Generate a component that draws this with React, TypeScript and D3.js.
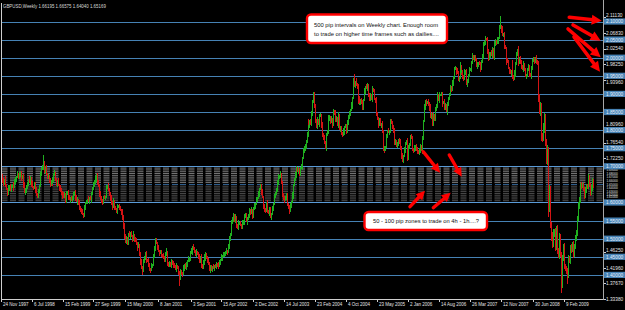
import React from 'react';
import * as d3 from 'd3';

const chartTitle = 'GBPUSD,Weekly  1.66195 1.66575 1.64040 1.65169';

const timeLabels = ['24 Nov 1997', '6 Jul 1998', '15 Feb 1999', '27 Sep 1999', '15 May 2000', '8 Jan 2001', '3 Sep 2001', '15 Apr 2002', '2 Dec 2002', '14 Jul 2003', '23 Feb 2004', '4 Oct 2004', '23 May 2005', '2 Jan 2006', '14 Aug 2006', '26 Mar 2007', '12 Nov 2007', '30 Jun 2008', '9 Feb 2009'];

const lineLevels = [2.10, 2.05, 2.00, 1.95, 1.90, 1.85, 1.80, 1.75, 1.70, 1.60, 1.55, 1.50, 1.45, 1.40];
const zoneLevels = [1.695, 1.69, 1.685, 1.68, 1.675, 1.67, 1.665, 1.66, 1.655, 1.645, 1.64, 1.635, 1.63, 1.625, 1.62, 1.615, 1.61, 1.605];
const zoneMidLevel = 1.65;
const zoneLabels = [1.69, 1.68, 1.67, 1.66, 1.65, 1.64, 1.63, 1.62, 1.61];
const priceTickLabels = [2.1113, 2.0683, 2.0254, 1.9825, 1.9396, 1.8096, 1.7654, 1.7225, 1.4625, 1.4196, 1.3767, 1.3338];

// weekly closes in 1/10000 units (16880 = 1.6880); open = previous close
const firstOpen = 16950;
const wickUnit = 30;
const close1997 = [16880, 16760, 16610, 16540, 16630, 16450];
const close1998 = [16380, 16270, 16380, 16450, 16350, 16420, 16480, 16420, 16580, 16640, 16700, 16790, 16720, 16740, 16810, 16690, 16720, 16500, 16280, 16320, 16380, 16420, 16520, 16630, 16580, 16680, 16500, 16420, 16400, 16520, 16340, 16220, 16180, 16300, 16450, 16780, 16920, 16980, 17050, 16880, 16950, 16780, 16720, 16720, 16580, 16480, 16600, 16550, 16640, 16780, 16800, 16620];
const close1999 = [16490, 16580, 16480, 16420, 16350, 16280, 16200, 16160, 16220, 16060, 16240, 16280, 16150, 16090, 16120, 16080, 16140, 16210, 16280, 16140, 16050, 15980, 16080, 15990, 15870, 15780, 15760, 15690, 15620, 15840, 15980, 16020, 16080, 16040, 16110, 16090, 16240, 16410, 16480, 16550, 16640, 16750, 16560, 16470, 16230, 16140, 16030, 15990, 16050, 16160, 16120, 16160];
const close2000 = [16420, 16450, 16380, 16220, 16140, 15980, 15890, 16040, 15850, 15820, 15760, 15880, 15910, 15840, 15790, 15740, 15590, 15350, 15100, 14940, 14980, 14850, 14990, 15120, 15070, 15150, 15080, 14960, 15110, 15000, 14950, 14880, 14760, 14820, 14580, 14350, 14220, 14100, 14380, 14440, 14600, 14420, 14380, 14280, 14160, 14150, 14240, 14280, 14520, 14700, 14760, 14960];
const close2001 = [14880, 14740, 14660, 14620, 14620, 14560, 14520, 14480, 14460, 14560, 14640, 14300, 14240, 14320, 14280, 14380, 14300, 14260, 14240, 14160, 14250, 14180, 14060, 13920, 13960, 14080, 14040, 14020, 14180, 14280, 14200, 14300, 14380, 14420, 14450, 14600, 14640, 14780, 14720, 14660, 14560, 14620, 14580, 14520, 14380, 14480, 14270, 14200, 14350, 14520, 14440, 14540];
const close2002 = [14480, 14380, 14320, 14150, 14200, 14160, 14220, 14180, 14250, 14220, 14300, 14260, 14240, 14340, 14420, 14480, 14520, 14560, 14580, 14620, 14660, 14640, 14800, 14980, 15140, 15280, 15440, 15560, 15640, 15480, 15580, 15380, 15300, 15420, 15420, 15380, 15340, 15420, 15480, 15620, 15640, 15480, 15560, 15600, 15800, 15720, 15780, 15640, 15820, 15900, 15960, 15980];
const close2003 = [16080, 16120, 16240, 16380, 16460, 16300, 16160, 15880, 15800, 15760, 15980, 15760, 15720, 15820, 15620, 15680, 15820, 15960, 16180, 16240, 16380, 16520, 16720, 16740, 16780, 16540, 16520, 16240, 16100, 16060, 16140, 16200, 15960, 15840, 15780, 15920, 16020, 16200, 16480, 16620, 16780, 16940, 16860, 16900, 16800, 16960, 16980, 17220, 17440, 17460, 17580, 17660];
const close2004 = [17880, 18220, 18160, 18240, 18180, 18480, 18780, 18960, 18660, 18280, 18080, 18280, 18180, 18380, 18420, 18140, 17880, 17800, 17680, 17520, 17860, 17960, 18320, 18360, 18220, 18300, 18140, 18360, 18520, 18460, 18280, 18320, 18140, 18420, 18020, 18040, 17920, 17880, 17960, 18080, 18100, 17940, 18240, 18340, 18460, 18560, 18680, 18880, 19380, 19260, 19340, 19260, 19200];
const close2005 = [18760, 18860, 18780, 18820, 18760, 18620, 18840, 19080, 19200, 19160, 19240, 18940, 18860, 18960, 18880, 19140, 19080, 18860, 18820, 18460, 18300, 18160, 18280, 18140, 18160, 17940, 17520, 17460, 17480, 17540, 17840, 17980, 17960, 17960, 18240, 18200, 18120, 17960, 17640, 17700, 17560, 17580, 17720, 17700, 17520, 17280, 17160, 17290, 17460, 17620, 17700, 17200];
const close2006 = [17540, 17600, 17720, 17840, 17780, 17480, 17420, 17500, 17560, 17460, 17420, 17380, 17420, 17560, 17440, 17760, 18240, 18620, 18800, 18760, 18780, 18720, 18620, 18360, 18440, 18140, 18420, 18300, 18560, 18640, 18660, 18980, 18840, 18960, 18980, 18980, 18740, 18780, 18620, 18700, 18520, 18700, 18880, 18960, 19180, 19120, 19300, 19460, 19680, 19720, 19620, 19580];
const close2007 = [19380, 19440, 19780, 19600, 19600, 19480, 19420, 19600, 19640, 19280, 19340, 19520, 19660, 19660, 19880, 20040, 19980, 20020, 19960, 19780, 19780, 19860, 19820, 19700, 19900, 20020, 20360, 20440, 20520, 20480, 20480, 20220, 19960, 20080, 20140, 20080, 20240, 19990, 20360, 20460, 20420, 20480, 20540, 20840, 20880, 20780, 20620, 20640, 20300, 20260, 19900, 19880];
const close2008 = [19720, 19600, 19580, 19640, 19880, 19480, 19420, 19560, 19840, 20100, 20220, 19860, 19980, 19880, 19760, 19700, 19820, 19660, 19500, 19500, 19680, 19740, 19540, 19500, 19680, 19940, 19960, 19880, 19980, 19920, 19840, 19340, 18900, 18540, 18640, 17840, 17780, 18040, 18380, 17640, 17180, 17400, 15860, 16340, 15380, 15060, 14860, 15140, 15140, 14800, 15260, 14660];
const close2009 = [14550, 15040, 14580, 13740, 14470, 14760, 14380, 14240, 14160, 14080, 14000, 14460, 14400, 14760, 14700, 14840, 14560, 14780, 15040, 15140, 15580, 15920, 16040, 16470, 16460, 16490, 16370, 16180, 16350, 16460, 16430, 16700, 16530, 16480, 16280, 16390, 16620, 16517];

// wick sizes above / below the body, in units of wickUnit pips, one digit per week
const up1997 = '231213';
const dn1997 = '122321';
const up1998 = '2131 2213 22131 3121 2231 22132 1312 23121 2229 3231 21312 2131';
const dn1998 = '1322 1213 12212 2131 3122 12213 2121 31221 1213 2312 21213 1221';
const up1999 = '2131 2213 21312 2121 31221 2131 2213 12131 2213 2312 21312 2121';
const dn1999 = '1213 2231 12213 1312 21312 2231 3121 21213 1312 2123 13212 1312';
const up2000 = '21312 2231 2131 2213 23132 2131 21312 2131 2312 31213 2131 2312';
const dn2000 = '12213 2312 1231 2132 34231 1213 12131 2312 3231 21312 2312 1213';
const up2001 = '21312 2131 2312 21213 2131 2213 21312 2131 2312 21312 2131 2213';
const dn2001 = '12131 2213 3121 12312 2131 2822 13121 2312 2131 21213 2231 1312';
const up2002 = '21312 2131 2213 21312 2131 2312 31213 2131 21312 2213 2131 2312';
const dn2002 = '12213 2312 1213 12131 2213 1312 21312 3121 12213 2131 1213 2131';
const up2003 = '21312 2213 21312 2131 2213 21312 2131 2213 21312 2213 2131 2312';
const dn2003 = '12131 3122 21213 2312 1213 12213 3121 2213 12131 1312 2213 1213';
const up2004 = '21312 2233 21312 2131 21213 2131 2213 21312 2131 2213 21312 6131';
const dn2004 = '12131 2312 31213 1322 21312 2213 1312 21312 2213 1213 12131 2312';
const up2005 = '21312 2131 2213 2131 21312 2213 2131 21312 2213 21312 2131 2213';
const dn2005 = '12131 2213 1312 2231 12213 2131 3312 12131 1312 21213 2312 1312';
const up2006 = '21312 2131 2213 2131 31213 2312 21312 2131 2213 21312 2131 2213';
const dn2006 = '12131 2213 1312 2131 12312 3121 12213 2131 1312 21312 1213 2131';
const up2007 = '21312 2131 2213 21312 2131 2213 21312 3131 2213 21312 9131 2213';
const dn2007 = '12131 2213 1312 12213 2131 1312 21312 4213 1312 12131 2312 2131';
const up2008 = '21312 2131 21312 2131 2213 21312 2131 2235 43532 4645 4344 4534';
const dn2008 = '12131 2213 12312 2131 1312 21312 2131 3435 54343 4594 3443 3543';
const up2009 = '34323 3432 34322 3232 2323 42322 2322 32323 21';
const dn2009 = '34383 3432 28323 3232 2323 32322 3232 23232 24';

// arrows as [weekIndexTail, priceTail, weekIndexTip, priceTip]
const arrowsTopRight = [
  [590.5, 2.1116, 624.2, 2.1022],
  [594.4, 2.0903, 623.1, 2.0470],
  [589.2, 2.0793, 623.1, 2.0011],
  [595.4, 2.0572, 622.4, 1.9613],
];
const arrowsZone = [
  [438.8, 1.7403, 456.2, 1.6823],
  [465.8, 1.7312, 478.7, 1.6713],
  [425.0, 1.5884, 440.6, 1.6326],
  [449.2, 1.5856, 467.3, 1.6271],
];

const noteTop = ['500 pip intervals on Weekly chart. Enough room', 'to trade on higher time frames such as dailies....'];
const noteZone = '50 - 100 pip zones to trade on 4h - 1h....?';

const yearCloses = [close1997, close1998, close1999, close2000, close2001, close2002, close2003, close2004, close2005, close2006, close2007, close2008, close2009];
const yearUp = [up1997, up1998, up1999, up2000, up2001, up2002, up2003, up2004, up2005, up2006, up2007, up2008, up2009];
const yearDn = [dn1997, dn1998, dn1999, dn2000, dn2001, dn2002, dn2003, dn2004, dn2005, dn2006, dn2007, dn2008, dn2009];

const digits = (s: string) => s.replace(/\s+/g, '').split('').map(Number);
const parseDay = d3.timeParse('%d %b %Y');
const fmt5 = d3.format('.5f');

const FONT = "'Liberation Sans', Arial, sans-serif";
const GREEN = '#1fb01f';
const RED = '#d41414';
const LINE = '#4682B4';

function Arrow({ x1, y1, x2, y2, head, wHead, sw }: any) {
  const dx = x2 - x1, dy = y2 - y1;
  const len = Math.hypot(dx, dy);
  const ux = dx / len, uy = dy / len;
  const bx = x2 - ux * head, by = y2 - uy * head;
  const nx = -uy, ny = ux;
  const pts = `${x2},${y2} ${bx + nx * wHead},${by + ny * wHead} ${bx - nx * wHead},${by - ny * wHead}`;
  return (
    <g>
      <line x1={x1} y1={y1} x2={bx + ux * 1} y2={by + uy * 1} stroke="#ff0000" strokeWidth={sw} strokeLinecap="round" />
      <polygon points={pts} fill="#ff0000" />
    </g>
  );
}

export default function App() {
  const width = 625;
  const height = 310;
  const plotL = 1.5;
  const plotR = 603.5;
  const axisY = 299.5;

  const start = parseDay(timeLabels[0]) as Date;
  const anchor = parseDay(timeLabels[timeLabels.length - 1]) as Date;
  const x = d3.scaleTime().domain([start, anchor]).range([1, 564]);
  const y = d3.scaleLinear().domain([1.40, 2.10]).range([274.9, 21.5]);
  const weekDate = (i: number) => new Date(start.getTime() + i * 7 * 864e5);
  const xi = (i: number) => x(weekDate(i));

  const closes = yearCloses.flat();
  const ups = yearUp.flatMap(digits);
  const dns = yearDn.flatMap(digits);

  const bars: { date: Date; o: number; c: number; h: number; l: number }[] = [];
  let prev = firstOpen;
  closes.forEach((c, i) => {
    const o = prev;
    const h = Math.max(o, c) + (ups[i] ?? 0) * wickUnit;
    const l = Math.min(o, c) - (dns[i] ?? 0) * wickUnit;
    bars.push({ date: weekDate(i), o: o / 1e4, c: c / 1e4, h: h / 1e4, l: l / 1e4 });
    prev = c;
  });

  const ry = (v: number) => Math.round(y(v)) + 0.5;

  // keep the regular price labels clear of the boxed line labels
  const minGap = 6.4;
  const labelY = (p: number) => {
    let py = y(p);
    lineLevels.forEach((lv) => {
      const ly = y(lv);
      const d = py - ly;
      if (Math.abs(d) < minGap) py = ly + (d >= 0 ? minGap : -minGap);
    });
    return py;
  };
  const zoneFloor = y(1.60) - 4.9;
  const zoneLabelBase = (p: number) => Math.min(y(p) + 1.1, zoneFloor);

  return (
    <div style={{ position: 'absolute', left: 0, top: 0 }}>
      <svg width={width} height={height} style={{ display: 'block' }} fontFamily={FONT}>
        <rect x={0} y={0} width={width} height={height} fill="#000" />

        {/* 500 pip lines */}
        {lineLevels.map((lv) => (
          <line key={'l' + lv} x1={plotL} x2={plotR} y1={ry(lv)} y2={ry(lv)}
            stroke={lv === 1.7 || lv === 1.6 ? '#5a9ad6' : LINE} strokeWidth={1} shapeRendering="crispEdges" />
        ))}

        {/* zone lines */}
        {zoneLevels.map((lv) => (
          <line key={'z' + lv} x1={plotL} x2={plotR} y1={y(lv)} y2={y(lv)}
            stroke={lv > zoneMidLevel ? '#d8d8d8' : '#a8a8a8'} strokeOpacity={lv > zoneMidLevel ? 0.62 : 0.5}
            strokeWidth={0.9} strokeDasharray="6 2.5" />
        ))}
        <line x1={plotL} x2={plotR} y1={ry(zoneMidLevel)} y2={ry(zoneMidLevel)} stroke="#2f5f8f"
          strokeWidth={1} strokeDasharray="6 2.5" shapeRendering="crispEdges" />

        {/* candles */}
        <g shapeRendering="crispEdges">
          {bars.map((b, i) => {
            const top = y(b.h);
            const bot = y(b.l);
            return (
              <rect key={i} x={Math.floor(x(b.date))} y={top} width={1} height={Math.max(1, bot - top)}
                fill={b.c >= b.o ? GREEN : RED} />
            );
          })}
        </g>

        {/* frame */}
        <line x1={plotL} x2={plotL} y1={3} y2={axisY} stroke="#cfcfcf" strokeWidth={1} shapeRendering="crispEdges" />
        <line x1={plotL} x2={plotR} y1={axisY} y2={axisY} stroke="#cfcfcf" strokeWidth={1} shapeRendering="crispEdges" />
        <line x1={plotR} x2={plotR} y1={0} y2={axisY} stroke="#a8a8a8" strokeWidth={1} shapeRendering="crispEdges" />

        {/* time axis */}
        {timeLabels.map((t) => {
          const d = parseDay(t) as Date;
          const tx = Math.round(x(d)) + 0.5;
          return (
            <g key={t}>
              <line x1={tx} x2={tx} y1={axisY} y2={axisY + 2.5} stroke="#cfcfcf" strokeWidth={1} shapeRendering="crispEdges" />
              <text transform={`translate(${tx + 1.5},306.3) scale(0.82,1)`} fontSize={5.5} fill="#e6e6e6">{t}</text>
            </g>
          );
        })}

        {/* price axis: regular labels */}
        {priceTickLabels.map((p) => (
          <g key={'p' + p}>
            <line x1={plotR} x2={plotR + 2} y1={ry(p)} y2={ry(p)} stroke="#cfcfcf" strokeWidth={1} shapeRendering="crispEdges" />
            <text transform={`translate(606,${labelY(p) + 1.9}) scale(0.9,1)`} fontSize={5.3} fill="#e6e6e6">{fmt5(p)}</text>
          </g>
        ))}
        {zoneLabels.map((p) => (
          <text key={'zl' + p} transform={`translate(606.5,${zoneLabelBase(p)}) scale(0.95,1)`} fontSize={3.3} fill="#e6e6e6">{fmt5(p)}</text>
        ))}
        {/* price axis: line labels */}
        {lineLevels.map((lv) => (
          <g key={'b' + lv}>
            <rect x={604} y={y(lv) - 3.1} width={21} height={6.2} fill={LINE} />
            <text transform={`translate(606,${y(lv) + 1.9}) scale(0.9,1)`} fontSize={5.3} fill="#e8f0fa">{fmt5(lv)}</text>
          </g>
        ))}

        {/* title */}
        <text transform="translate(3,8.3) scale(0.85,1)" fontSize={5.2} fill="#d8d8d8">{chartTitle}</text>

        {/* notes */}
        <rect x={307} y={14.5} width={140} height={28.5} rx={4} fill="#fff" stroke="#ff0000" strokeWidth={2.4} />
        <text x={314} y={27} fontSize={5.8} fill="#111" textLength={124} lengthAdjust="spacingAndGlyphs">{noteTop[0]}</text>
        <text x={314} y={36.3} fontSize={5.8} fill="#111" textLength={125} lengthAdjust="spacingAndGlyphs">{noteTop[1]}</text>

        <rect x={364.5} y={212} width={122.5} height={18} rx={4} fill="#fff" stroke="#ff0000" strokeWidth={2.4} />
        <text x={373} y={222.8} fontSize={5.8} fill="#111" textLength={106} lengthAdjust="spacingAndGlyphs">{noteZone}</text>

        {/* arrows */}
        {arrowsTopRight.map((a, k) => (
          <Arrow key={'at' + k} x1={xi(a[0])} y1={y(a[1])} x2={xi(a[2])} y2={y(a[3])} head={10} wHead={5} sw={3.6} />
        ))}
        {arrowsZone.map((a, k) => (
          <Arrow key={'az' + k} x1={xi(a[0])} y1={y(a[1])} x2={xi(a[2])} y2={y(a[3])} head={9} wHead={4.5} sw={3.4} />
        ))}
      </svg>
    </div>
  );
}
